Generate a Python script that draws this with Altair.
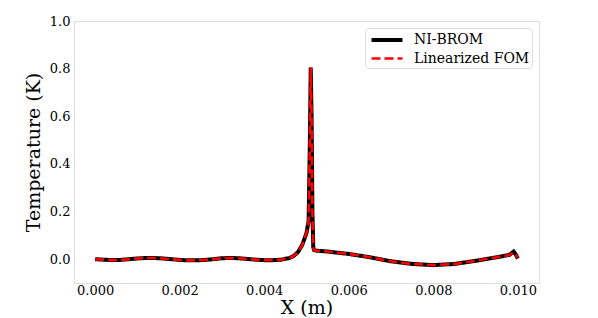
import altair as alt
import pandas as pd

x_m = [0.0000, 0.0002, 0.0004, 0.0006, 0.0008, 0.0010, 0.0012, 0.0014, 0.0016, 0.0018,
       0.0020, 0.0022, 0.0024, 0.0026, 0.0028, 0.0030, 0.0032, 0.0034, 0.0036, 0.0038,
       0.0040, 0.0042, 0.0044, 0.0046, 0.0047, 0.0048, 0.0049, 0.0050, 0.00505, 0.00508,
       0.00510, 0.00512, 0.00514, 0.00516, 0.00518, 0.00522, 0.0055, 0.0060, 0.0065, 0.0070,
       0.0075, 0.0080, 0.0085, 0.0090, 0.0095, 0.0098, 0.0099, 0.00995, 0.0100]
t_nibrom = [0.000, -0.002, -0.004, -0.003, 0.000, 0.003, 0.005, 0.005, 0.003, 0.000,
            -0.003, -0.005, -0.005, -0.003, 0.000, 0.004, 0.005, 0.004, 0.001, -0.002,
            -0.004, -0.004, -0.002, 0.005, 0.014, 0.030, 0.060, 0.110, 0.160, 0.500,
            0.805, 0.600, 0.200, 0.050, 0.038, 0.036, 0.032, 0.022, 0.008, -0.009,
            -0.020, -0.025, -0.020, -0.007, 0.008, 0.018, 0.032, 0.020, 0.003]
t_fom = [0.000, -0.002, -0.004, -0.003, 0.000, 0.003, 0.005, 0.005, 0.003, 0.000,
         -0.003, -0.005, -0.005, -0.003, 0.000, 0.004, 0.005, 0.004, 0.001, -0.002,
         -0.004, -0.004, -0.002, 0.005, 0.014, 0.030, 0.060, 0.110, 0.160, 0.500,
         0.805, 0.600, 0.200, 0.050, 0.038, 0.036, 0.032, 0.022, 0.008, -0.009,
         -0.020, -0.025, -0.020, -0.007, 0.008, 0.017, 0.028, 0.018, 0.008]
series_names = ["NI-BROM", "Linearized FOM"]
x_ticks = [0.000, 0.002, 0.004, 0.006, 0.008, 0.010]
y_ticks = [0.0, 0.2, 0.4, 0.6, 0.8, 1.0]

df1 = pd.DataFrame({"x": x_m, "t": t_nibrom, "series": series_names[0]})
df2 = pd.DataFrame({"x": x_m, "t": t_fom, "series": series_names[1]})

FONT = "DejaVu Serif"

xenc = alt.X("x:Q", scale=alt.Scale(domain=[-0.0005, 0.0105], nice=False, zero=False),
             axis=alt.Axis(title="X (m)", values=x_ticks, format=".3f", grid=False,
                           ticks=False, domain=False, labelFontSize=13, labelFont=FONT,
                           labelColor="#000", labelPadding=1, titleFont=FONT,
                           titleFontSize=19, titleFontWeight="normal", titleColor="#000",
                           titlePadding=1))
yenc = alt.Y("t:Q", scale=alt.Scale(domain=[-0.1, 1.0], nice=False, zero=False),
             axis=alt.Axis(title="Temperature (K)", values=y_ticks, format=".1f", grid=False,
                           ticks=False, domain=False, labelFontSize=13, labelFont=FONT,
                           labelColor="#000", labelPadding=4, titleFont=FONT,
                           titleFontSize=19, titleFontWeight="normal", titleColor="#000",
                           titlePadding=6))
color = alt.Color("series:N", scale=alt.Scale(domain=series_names, range=["#000000", "#ff0000"]),
                  legend=alt.Legend(title=None, orient="top-right", offset=7,
                                    symbolType="M-2,0H2", symbolSize=240,
                                    symbolOffset=10, labelOffset=17,
                                    labelFont=FONT, labelFontSize=14, labelColor="#000",
                                    fillColor="white", strokeColor="#dddddd", cornerRadius=3,
                                    padding=2, rowPadding=1))
dash = alt.StrokeDash("series:N", scale=alt.Scale(domain=series_names, range=[[1, 0], [9, 4]]),
                      legend=None)
width = alt.StrokeWidth("series:N", scale=alt.Scale(domain=series_names, range=[4, 2.6]),
                        legend=None)

l1 = alt.Chart(df1).mark_line(clip=True).encode(x=xenc, y=yenc, color=color,
                                                 strokeDash=dash, strokeWidth=width)
l2 = alt.Chart(df2).mark_line(clip=True).encode(x=xenc, y=yenc, color=color,
                                                 strokeDash=dash, strokeWidth=width)

chart = alt.layer(l1, l2).properties(
    width=465, height=262,
    padding={"left": 16, "top": 7, "right": 5, "bottom": 5},
).configure_view(stroke="#aaaaaa", strokeWidth=1).configure(background="white")

chart.save("out.html", embed_options={"renderer": "svg", "actions": False})
